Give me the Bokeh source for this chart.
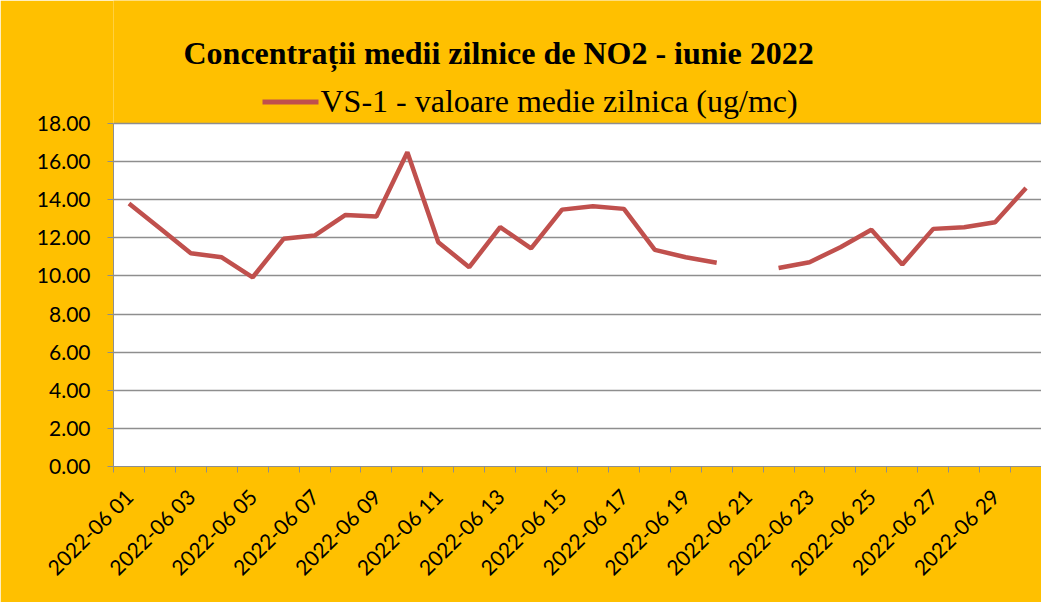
import math
from bokeh.plotting import figure
from bokeh.models import (ColumnDataSource, FixedTicker, NumeralTickFormatter, Range1d,
                          BoxAnnotation)
from bokeh.core.properties import value
from bokeh.embed import file_html
from bokeh.resources import INLINE

# ---- data ----
categories = ["2022-06 %02d" % d for d in range(1, 31)]
values = [13.80, 12.50, 11.19, 10.98, 9.93, 11.95, 12.12, 13.20, 13.12, 16.49,
          11.77, 10.46, 12.56, 11.45, 13.48, 13.66, 13.52, 11.37, 10.98, 10.69,
          float("nan"), 10.42, 10.72, 11.51, 12.42, 10.60, 12.47, 12.56, 12.82, 14.62]
y_ticks = [0, 2, 4, 6, 8, 10, 12, 14, 16, 18]
series_name = "VS-1 - valoare medie zilnica (ug/mc)"
title_text = "Concentrații  medii zilnice de NO2 - iunie 2022"

ORANGE = "#FFC000"
RED = "#C0504D"
GRID = "#8E8E8E"

# ---- layout geometry (pixels) ----
LEFT = 113          # frame left
FW = 928            # frame width
PLOT_TOP = 123      # where the white plot area starts
PLOT_BOTTOM = 466   # x axis position
N = len(categories)
Y_MAX = y_ticks[-1]
Y_TOP = Y_MAX * PLOT_BOTTOM / (PLOT_BOTTOM - PLOT_TOP)   # range covering header too


def px_y(pix):
    """page pixel row -> data y (for header placement only)"""
    return (PLOT_BOTTOM - pix) * Y_MAX / (PLOT_BOTTOM - PLOT_TOP)


def px_x(pix):
    """page pixel column -> data x (for header placement only)"""
    return 0.5 + (pix - LEFT) * N / FW


x = list(range(1, N + 1))
src = ColumnDataSource(dict(x=x, y=values, cat=categories))

p = figure(frame_width=FW, frame_height=PLOT_BOTTOM, output_backend="svg",
           toolbar_location=None, x_range=Range1d(0.5, N + 0.5),
           y_range=Range1d(0, Y_TOP), title=None,
           min_border_left=LEFT, min_border_right=0, min_border_top=0,
           min_border_bottom=136)
p.border_fill_color = ORANGE
p.background_fill_color = ORANGE
p.outline_line_color = None

# white plot area (0 .. 18)
p.add_layout(BoxAnnotation(bottom=0, top=Y_MAX, fill_color="white", fill_alpha=1.0,
                           line_color=None, level="image"))

p.line("x", "y", source=src, line_color=RED, line_width=4.5)

# header: title + legend
p.text(x=[px_x(183)], y=[px_y(52)], text=[title_text],
       text_font=value("Liberation Serif"), text_font_size="32px",
       text_font_style="bold", text_color="black",
       text_align="left", text_baseline="middle")
p.line(x=[px_x(262), px_x(318)], y=[px_y(101.5), px_y(101.5)],
       line_color=RED, line_width=5)
p.text(x=[px_x(320)], y=[px_y(100)], text=[series_name],
       text_font=value("Liberation Serif"), text_font_size="32px",
       text_color="black", text_align="left", text_baseline="middle")

# y axis
p.yaxis.ticker = FixedTicker(ticks=y_ticks)
p.yaxis.bounds = (0, Y_MAX)
p.yaxis.formatter = NumeralTickFormatter(format="0.00")
p.yaxis.major_label_text_font = "Lato"
p.yaxis.major_label_text_font_size = "21px"
p.yaxis.major_label_text_color = "black"
p.yaxis.axis_line_color = GRID
p.yaxis.major_tick_line_color = GRID
p.yaxis.major_tick_out = 6
p.yaxis.major_tick_in = 0
p.yaxis.minor_tick_line_color = None
p.yaxis.major_label_standoff = 17

# x axis
label_pos = [i for i in x if i % 2 == 1]
p.xaxis.ticker = FixedTicker(ticks=label_pos,
                             minor_ticks=[i + 0.5 for i in range(0, N + 1)])
p.xaxis.major_label_overrides = {i: categories[i - 1] for i in label_pos}
p.xaxis.major_label_orientation = math.pi / 4
p.xaxis.major_label_text_font = "Lato"
p.xaxis.major_label_text_font_size = "21px"
p.xaxis.major_label_text_color = "black"
p.xaxis.major_tick_out = 0
p.xaxis.major_tick_in = 0
p.xaxis.minor_tick_out = 6
p.xaxis.minor_tick_in = 0
p.xaxis.minor_tick_line_color = GRID
p.xaxis.axis_line_color = GRID
p.xaxis.major_label_standoff = 20

p.xgrid.grid_line_color = None
p.ygrid.grid_line_color = GRID
p.ygrid.grid_line_width = 1.5

open("out.html", "w").write(file_html(p, INLINE))
